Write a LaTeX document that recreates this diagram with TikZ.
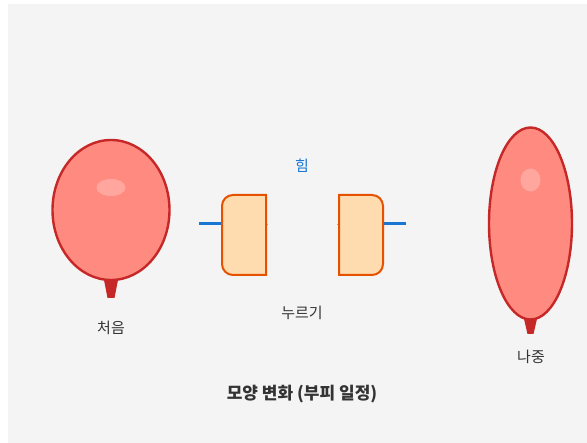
\documentclass[tikz,border=0pt]{standalone}
\usepackage{fontspec}
\setmainfont{Noto Sans CJK KR}
\begin{document}
\begin{tikzpicture}[x=1pt,y=-1pt,
  balloon/.style={fill=balloonfill,draw=balloonline,line width=2.4pt},
  knot/.style={fill=balloonline,draw=none},
  shine/.style={fill=white,fill opacity=0.25,draw=none},
  press/.style={fill=pressfill,draw=pressline,line width=2pt},
  forceline/.style={draw=forceblue,line width=3pt},
  lbl/.style={text=labelgray,font=\fontsize{15}{18}\selectfont,inner sep=0pt}]
\definecolor{balloonfill}{HTML}{FF8A80}
\definecolor{balloonline}{HTML}{C62828}
\definecolor{pressfill}{HTML}{FFDCB0}
\definecolor{pressline}{HTML}{E65100}
\definecolor{forceblue}{HTML}{1976D2}
\definecolor{labelgray}{HTML}{333333}
\definecolor{bg}{HTML}{F4F4F4}
\useasboundingbox (0,0) rectangle (587,443);
\fill[white] (0,0) rectangle (587,443);
\fill[bg] (8,4) rectangle (587,443);

% initial balloon
\fill[knot] (104,280) -- (118,280) -- (114.5,298) -- (107.5,298) -- cycle;
\draw[balloon] (111,210) ellipse [x radius=58.5, y radius=70];
\fill[shine] (111,187.5) ellipse [x radius=14.5, y radius=8.5];
\node[lbl] (start) at (111,328) {처음};

% pressing plates
\coordinate (lf) at (199,224);
\coordinate (rf) at (406,224);
\draw[forceline] (lf) -- (222,224);
\draw[forceline] (383,224) -- (rf);
\draw[gray!70,line width=0.6pt] (266,224) -- (268,224);
\draw[gray!70,line width=0.6pt] (337,224) -- (339,224);
\draw[press] (266,195) -- (233,195) arc[start angle=-90, end angle=-180, radius=11]
  -- (222,264) arc[start angle=180, end angle=90, radius=11] -- (266,275) -- cycle;
\draw[press] (339,195) -- (372,195) arc[start angle=-90, end angle=0, radius=11]
  -- (383,264) arc[start angle=0, end angle=90, radius=11] -- (339,275) -- cycle;
\node[lbl,text=forceblue] (force) at (302,166) {힘};
\node[lbl] (squeeze) at (302,313) {누르기};

% stretched balloon
\fill[knot] (524,319) -- (537,319) -- (533.5,334) -- (527.5,334) -- cycle;
\draw[balloon] (530.5,223.5) ellipse [x radius=41.5, y radius=96];
\fill[shine] (530.5,180) ellipse [x radius=10, y radius=11.5];
\node[lbl] (end) at (531,357) {나중};

\node[lbl,font=\fontsize{17}{20}\selectfont\bfseries] (title) at (302,394) {모양 변화 (부피 일정)};
\end{tikzpicture}
\end{document}
